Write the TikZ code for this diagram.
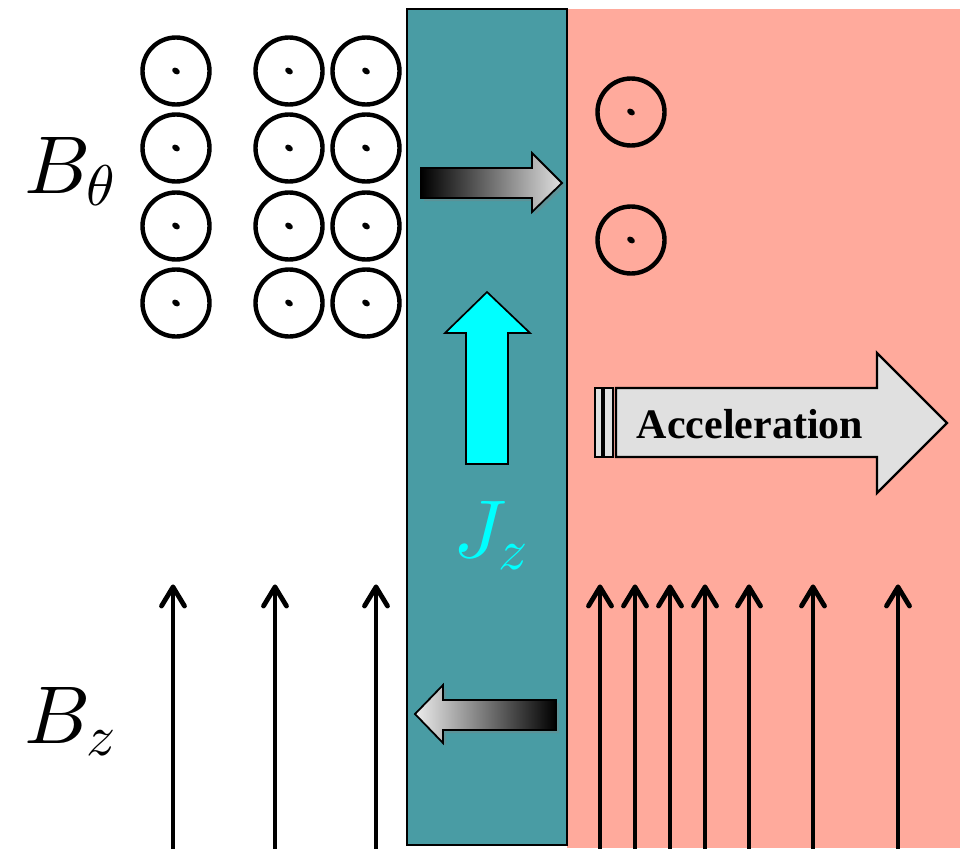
\IfFileExists{fix-cm.sty}{\RequirePackage{fix-cm}}{}
\documentclass[tikz,border=0pt]{standalone}
\usepackage{fontspec}
\newfontfamily\accfont{Liberation Serif}
\DeclareFontShape{OML}{cmm}{m}{it}{<->cmmi10}{}
\usetikzlibrary{shadows}
\definecolor{tealbar}{RGB}{73,156,164}
\definecolor{pinkbg}{RGB}{255,170,156}
\definecolor{lgray}{RGB}{224,224,224}
\definecolor{jcyan}{RGB}{0,255,255}
\begin{document}
\begin{tikzpicture}[x=1pt,y=-1pt,
  fieldcirc/.style={line width=4.4pt},
  bzline/.style={line width=4.8pt, line cap=round, line join=round},
  gradarrow/.style={draw=black, line width=1.8pt, line join=miter,
    drop shadow={opacity=0.35, shadow xshift=3pt, shadow yshift=-3pt}},
  accarrow/.style={draw=black, fill=lgray, line width=2.4pt, line join=miter},
  biglabel/.style={inner sep=0pt, font=\fontsize{82}{90}\selectfont}]
\useasboundingbox (0,0) rectangle (960,848);
% backgrounds
\fill[pinkbg] (567,9) rectangle (960,848);
\draw[fill=tealbar, line width=2.8pt] (407,9) rectangle (567,845);
% B_theta circles
\foreach \cx in {176,289,366}{
  \foreach \cy in {71,148,226,303}{
    \draw[fieldcirc] (\cx,\cy) circle[radius=33.5pt];
    \fill[rotate around={-35:(\cx,\cy)}] (\cx,\cy) ellipse[x radius=4.2pt, y radius=3pt];
  }
}
\foreach \cy in {112,240}{
  \draw[fieldcirc] (631,\cy) circle[radius=33.5pt];
  \fill[rotate around={-35:(631,\cy)}] (631,\cy) ellipse[x radius=4.2pt, y radius=3pt];
}
% B_z field lines
\foreach \bx in {173,275,376,600,635,670,705,749,813,898}{
  \draw[bzline] (\bx,850) -- (\bx,587);
  \draw[bzline] (\bx-11.5,606) -- (\bx,587) -- (\bx+11.5,606);
}
% gradient arrows
\path[gradarrow, left color=black, right color=lgray]
  (421,168) -- (532,168) -- (532,153) -- (562,183) -- (532,212) -- (532,198) -- (421,198) -- cycle;
\path[gradarrow, left color=lgray!60!white, right color=black]
  (556,700) -- (443,700) -- (443,685) -- (415,714) -- (443,743) -- (443,730) -- (556,730) -- cycle;
% J_z arrow
\draw[fill=jcyan, line width=1.7pt, line join=miter]
  (466,464) -- (466,333) -- (445,333) -- (487,292) -- (530,333) -- (508,333) -- (508,464) -- cycle;
% acceleration arrow
\draw[accarrow] (595,388) rectangle (602,457);
\draw[accarrow] (604,388) rectangle (613,457);
\draw[accarrow] (616,388) -- (877,388) -- (877,353) -- (947,423) -- (877,493) -- (877,457) -- (616,457) -- cycle;
\node[inner sep=0pt, anchor=base, font=\accfont\bfseries\fontsize{42}{46}\selectfont] (acc) at (750,438) {Acceleration};
% labels
\node[biglabel, anchor=base west] (btheta) at (24,193) {$B_\theta$};
\node[biglabel, anchor=base west] (bz) at (24,743) {$B_z$};
\node[biglabel, anchor=base, text=jcyan] (jz) at (491,557) {$J_z$};
\end{tikzpicture}
\end{document}
